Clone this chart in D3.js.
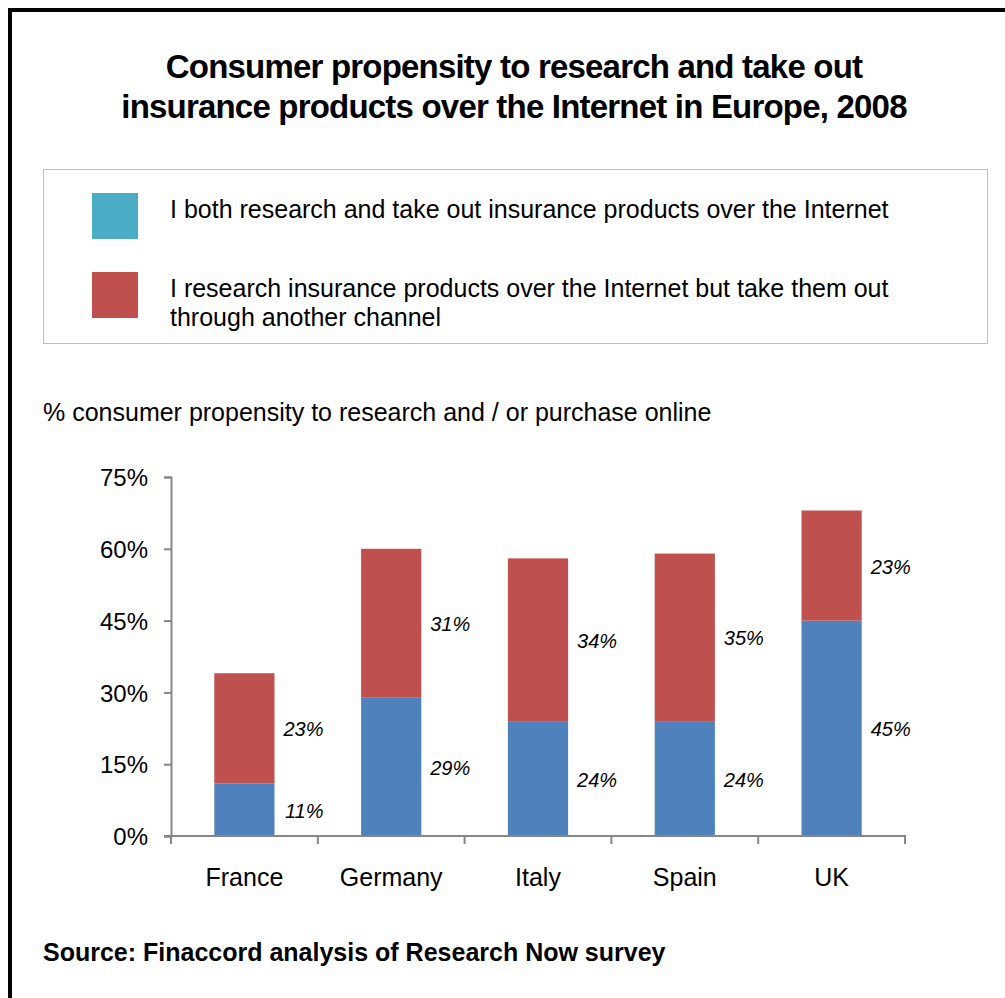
<!DOCTYPE html>
<html>
<head>
<meta charset="utf-8">
<script src="https://cdn.jsdelivr.net/npm/d3@7"></script>
<style>
  html, body { margin: 0; padding: 0; background: #fff; }
  svg { display: block; font-family: "Liberation Sans", Arial, sans-serif; }
</style>
</head>
<body>
<div id="chart"></div>
<script>
// chart data
const countries = ["France", "Germany", "Italy", "Spain", "UK"];
const researchAndBuy = [11, 29, 24, 24, 45];
const researchOnly = [23, 31, 34, 35, 23];
const yTicks = [0, 15, 30, 45, 60, 75];
const titleLines = [
    "Consumer propensity to research and take out",
    "insurance products over the Internet in Europe, 2008"
];
const legendItems = [
    { lines: ["I both research and take out insurance products over the Internet"], color: "#4BACC6" },
    { lines: ["I research insurance products over the Internet but take them out", "through another channel"], color: "#C0504D" }
];
const barColors = ["#4F81BD", "#C0504D"];

const width = 1005, height = 998;
const svg = d3.select("#chart").append("svg")
    .attr("width", width)
    .attr("height", height);

// outer frame (only top and left visible in the crop)
svg.append("line").attr("x1", 10).attr("x2", width).attr("y1", 10).attr("y2", 10)
    .attr("stroke", "#000").attr("stroke-width", 4);
svg.append("line").attr("x1", 10).attr("x2", 10).attr("y1", 8).attr("y2", height)
    .attr("stroke", "#000").attr("stroke-width", 4);

// title
svg.append("g").selectAll("text")
    .data(titleLines)
    .enter().append("text")
    .attr("x", 514)
    .attr("y", (d, i) => 78 + i * 40)
    .attr("text-anchor", "middle")
    .attr("font-size", "33px")
    .attr("font-weight", "bold")
    .attr("letter-spacing", "-0.8px")
    .text(d => d);

// legend
svg.append("rect")
    .attr("x", 43.5).attr("y", 169.5)
    .attr("width", 944).attr("height", 174)
    .attr("fill", "none")
    .attr("stroke", "#bfbfbf")
    .attr("stroke-width", 1);

const legend = svg.append("g").selectAll("g")
    .data(legendItems)
    .enter().append("g")
    .attr("transform", (d, i) => `translate(0,${193 + i * 79})`);

legend.append("rect")
    .attr("x", 92).attr("width", 46).attr("height", 46)
    .attr("fill", d => d.color);

legend.each(function(d) {
    d3.select(this).selectAll("text")
        .data(d.lines)
        .enter().append("text")
        .attr("x", 170)
        .attr("y", (t, j) => 25 + j * 29)
        .attr("font-size", "25px")
        .attr("fill", "#000")
        .text(t => t);
});

// subtitle
svg.append("text")
    .attr("x", 43).attr("y", 421)
    .attr("font-size", "25px")
    .text("% consumer propensity to research and / or purchase online");

// plot
const x = d3.scaleBand().domain(countries).range([171, 905]).paddingInner(0.59).paddingOuter(0.295);
const y = d3.scaleLinear().domain([0, 75]).range([836, 477]);

const stackData = countries.map((c, i) => ({ country: c, a: researchAndBuy[i], b: researchOnly[i] }));
const series = d3.stack().keys(["a", "b"])(stackData);

const groups = svg.append("g").selectAll("g")
    .data(series)
    .enter().append("g")
    .attr("fill", (d, i) => barColors[i]);

groups.selectAll("rect")
    .data(d => d)
    .enter().append("rect")
    .attr("x", d => x(d.data.country))
    .attr("y", d => y(d[1]))
    .attr("width", x.bandwidth())
    .attr("height", d => y(d[0]) - y(d[1]));

groups.selectAll("text")
    .data((d, i) => d.map(v => ({ v: v, key: series[i].key })))
    .enter().append("text")
    .attr("x", d => x(d.v.data.country) + x.bandwidth() + 49)
    .attr("y", d => (y(d.v[0]) + y(d.v[1])) / 2 + 8)
    .attr("text-anchor", "end")
    .attr("font-size", "20px")
    .attr("font-style", "italic")
    .attr("fill", "#000")
    .text(d => d.v.data[d.key] + "%");

// y axis
const yAxis = svg.append("g")
    .attr("transform", "translate(171,0)")
    .call(d3.axisLeft(y).tickValues(yTicks).tickSize(7).tickPadding(16).tickFormat(d => d + "%"));
yAxis.select(".domain").attr("stroke", "#868686").attr("stroke-width", 2);
yAxis.selectAll(".tick line").attr("stroke", "#868686").attr("stroke-width", 2);
yAxis.selectAll(".tick text").attr("font-size", "24px").attr("fill", "#000")
    .attr("font-family", "Liberation Sans, Arial, sans-serif").attr("dy", "0.36em");

// x axis
const xAxis = svg.append("g").attr("transform", "translate(0,836)");
xAxis.append("line")
    .attr("x1", 164).attr("x2", 906)
    .attr("stroke", "#868686").attr("stroke-width", 2);
const step = x.step();
xAxis.selectAll(".sep")
    .data(d3.range(countries.length + 1))
    .enter().append("line")
    .attr("x1", i => 171 + i * step).attr("x2", i => 171 + i * step)
    .attr("y1", 0).attr("y2", 8)
    .attr("stroke", "#868686").attr("stroke-width", 2);
xAxis.selectAll(".cat")
    .data(countries)
    .enter().append("text")
    .attr("x", d => x(d) + x.bandwidth() / 2)
    .attr("y", 50)
    .attr("text-anchor", "middle")
    .attr("font-size", "25px")
    .text(d => d);

// source
svg.append("text")
    .attr("x", 43).attr("y", 961)
    .attr("font-size", "25px")
    .attr("font-weight", "bold")
    .text("Source: Finaccord analysis of Research Now survey");
</script>
</body>
</html>
